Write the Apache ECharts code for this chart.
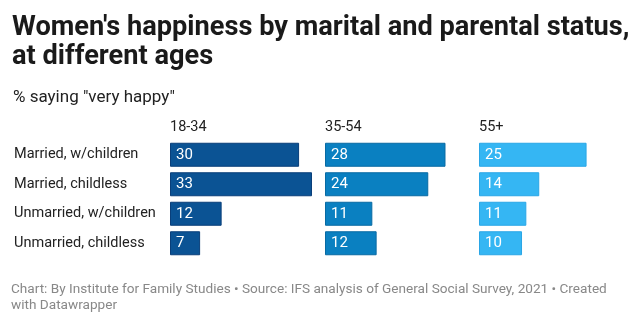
<!DOCTYPE html>
<html>
<head>
<meta charset="utf-8">
<script src="https://cdn.jsdelivr.net/npm/echarts@6/dist/echarts.min.js"></script>
<style>
  html, body { margin: 0; padding: 0; background: #fff; }
  #chart { width: 640px; height: 325px; }
</style>
</head>
<body>
<div id="chart"></div>
<script>
// Row categories and the three age groups
const statuses = ['Married, w/children', 'Married, childless', 'Unmarried, w/children', 'Unmarried, childless'];
const ageGroups = ['18-34', '35-54', '55+'];

// % saying "very happy" per age group, in row order
const age18to34 = [30, 33, 12, 7];
const age35to54 = [28, 24, 11, 12];
const age55plus = [25, 14, 11, 10];

const seriesValues = [age18to34, age35to54, age55plus];
const panelColors = ['#0b5394', '#0a80c1', '#35b6f3'];
const borderColors = ['#0a3f7a', '#086aa3', '#2aa6e6'];

const FONT = 'Roboto';
const panelLeft = [170, 325, 479];
const panelWidth = 142;
const gridTop = 140;
const gridHeight = 118;

const chart = echarts.init(document.getElementById('chart'), null, { renderer: 'canvas' });

const grids = [], xAxes = [], yAxes = [], series = [], headers = [];
ageGroups.forEach((g, i) => {
  grids.push({ left: panelLeft[i], top: gridTop, width: panelWidth, height: gridHeight, containLabel: false });
  xAxes.push({
    gridIndex: i, type: 'value', min: 0, max: 33,
    show: false
  });
  yAxes.push({
    gridIndex: i, type: 'category', data: statuses, inverse: true,
    axisLine: { show: false }, axisTick: { show: false }, splitLine: { show: false },
    axisLabel: i === 0 ? {
      show: true, fontFamily: FONT, fontSize: 14.5, color: '#222',
      align: 'left', margin: panelLeft[0] - 14
    } : { show: false }
  });
  series.push({
    type: 'bar', xAxisIndex: i, yAxisIndex: i,
    data: seriesValues[i], barWidth: 24,
    itemStyle: { color: panelColors[i], borderColor: borderColors[i], borderWidth: 1 },
    label: {
      show: true, position: 'insideLeft', distance: 6,
      fontFamily: FONT, fontSize: 15, color: '#fff'
    },
    silent: true, animation: false
  });
  headers.push({
    text: g, left: panelLeft[i], top: 120, padding: 0,
    textStyle: { fontFamily: FONT, fontSize: 14.5, fontWeight: 'normal', color: '#222' }
  });
});

chart.setOption({
  animation: false,
  title: [
    {
      text: "Women's happiness by marital and parental status,\nat different ages",
      left: 12, top: 14, padding: 0,
      textStyle: { fontFamily: FONT, fontSize: 27.2, fontWeight: 'bold', color: '#1a1a1a', lineHeight: 29 }
    },
    {
      text: '% saying "very happy"', left: 13, top: 89, padding: 0,
      textStyle: { fontFamily: FONT, fontSize: 17, fontWeight: 'normal', color: '#222' }
    },
    ...headers,
    {
      text: 'Chart: By Institute for Family Studies • Source: IFS analysis of General Social Survey, 2021 • Created\nwith Datawrapper',
      left: 11, top: 281, padding: 0,
      textStyle: { fontFamily: FONT, fontSize: 13.6, fontWeight: 'normal', color: '#888', lineHeight: 16.5 }
    }
  ],
  grid: grids,
  xAxis: xAxes,
  yAxis: yAxes,
  series: series
});
</script>
</body>
</html>
